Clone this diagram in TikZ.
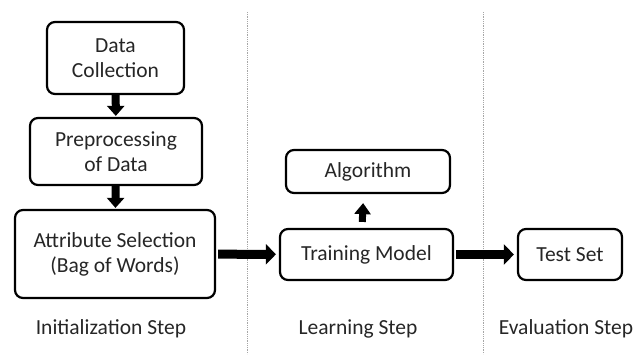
\documentclass[tikz,border=0pt]{standalone}
\usepackage{fontspec}
\setmainfont{Carlito}
\usepackage{tikz}
\usetikzlibrary{arrows.meta}

\tikzset{
  stepbox/.style={draw, rounded corners=8pt, line width=2.2pt, fill=white,
    align=center, inner sep=0pt, text=black!85},
  steplabel/.style={text=black!85},
  bigarrow/.style={line width=9pt, -{Triangle[length=10pt,width=20pt]}},
  downarrow/.style={line width=8pt, -{Triangle[length=10pt,width=17pt]}},
  uparrow/.style={line width=7pt, -{Triangle[length=11pt,width=16pt]}},
  divider/.style={gray!70, densely dotted, line width=0.8pt}
}

\begin{document}
\begin{tikzpicture}[x=1pt, y=-1pt, font=\fontsize{21.5}{25}\selectfont]
  \useasboundingbox (0,0) rectangle (636,354);

  % Draw dividers
  \coordinate (d1top) at (247, 12);
  \coordinate (d1bot) at (247, 354);
  \coordinate (d2top) at (483, 12);
  \coordinate (d2bot) at (483, 354);
  \draw[divider] (d1top) -- (d1bot);
  \draw[divider] (d2top) -- (d2bot);

  % Draw nodes
  \node[stepbox, minimum width=137pt, minimum height=72pt] (dc) at (115.5, 58) {Data\\Collection};
  \node[stepbox, minimum width=172pt, minimum height=67pt] (pre) at (116, 151.5) {Preprocessing\\of Data};
  \node[stepbox, minimum width=200pt, minimum height=88pt] (attr) at (115, 254) {Attribute Selection\\(Bag of Words)};
  \node[stepbox, minimum width=164pt, minimum height=43pt] (alg) at (368, 171.5) {Algorithm};
  \node[stepbox, minimum width=173pt, minimum height=51pt] (train) at (366.5, 254.5) {Training Model};
  \node[stepbox, minimum width=104pt, minimum height=51pt] (test) at (570, 254.5) {Test Set};

  \node[steplabel] (init) at (111, 329) {Initialization Step};
  \node[steplabel] (learn) at (358, 329) {Learning Step};
  \node[steplabel] (eval) at (566, 329) {Evaluation Step};

  % Draw edges
  \draw[downarrow, shorten <=-1pt, shorten >=1pt] (dc) -- (pre);
  \draw[downarrow, shorten <=-1pt, shorten >=1pt] (pre) -- (attr);
  \draw[bigarrow, shorten <=2pt, shorten >=3pt] (attr) -- (train);
  \draw[bigarrow, shorten <=2pt, shorten >=3pt] (train) -- (test);
  \draw[uparrow, shorten <=6pt, shorten >=9pt] ([xshift=-4.5pt]train.north) -- ([xshift=-4.5pt]alg.south);
\end{tikzpicture}
\end{document}
